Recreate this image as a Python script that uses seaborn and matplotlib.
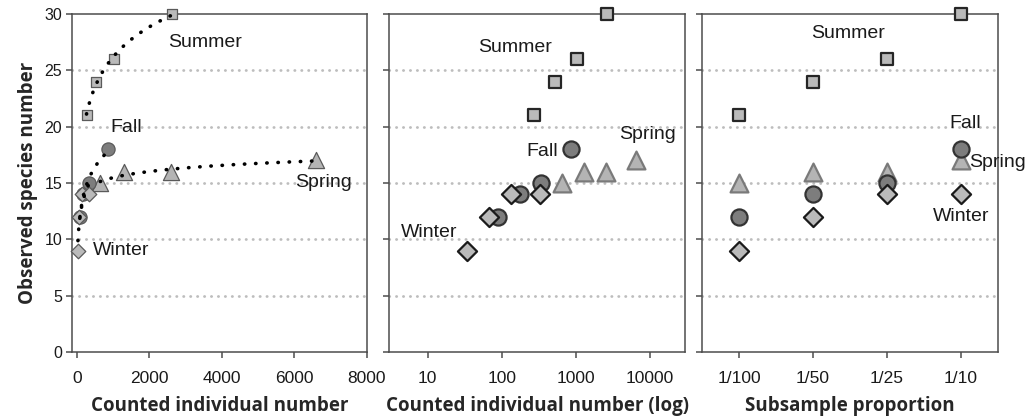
import numpy as np
import seaborn as sns
import matplotlib.pyplot as plt
from matplotlib.ticker import NullLocator

# -------- DATA --------
seasons = ["Summer", "Fall", "Spring", "Winter"]
proportions = ["1/100", "1/50", "1/25", "1/10"]

# counted individuals per subsample (1/100, 1/50, 1/25, 1/10)
summer_n = [270, 520, 1040, 2630]
fall_n = [89, 178, 340, 870]
spring_n = [650, 1300, 2600, 6600]
winter_n = [34, 67, 134, 330]

# observed species number
summer_s = [21, 24, 26, 30]
fall_s = [12, 14, 15, 18]
spring_s = [15, 16, 16, 17]
winter_s = [9, 12, 14, 14]

counts = {"Summer": summer_n, "Fall": fall_n, "Spring": spring_n, "Winter": winter_n}
species = {"Summer": summer_s, "Fall": fall_s, "Spring": spring_s, "Winter": winter_s}

# -------- STYLE --------
style = {
    "Summer": dict(marker="s", fc="#bababa", ec="#262626", s=85, s1=55, z=3),
    "Spring": dict(marker="^", fc="#b4b4b4", ec="#7a7a7a", s=165, s1=135, z=4),
    "Fall":   dict(marker="o", fc="#7d7d7d", ec="#333333", s=135, s1=90, z=5),
    "Winter": dict(marker="D", fc="#bababa", ec="#1a1a1a", s=95, s1=55, z=6),
}
draw_order = ["Summer", "Spring", "Fall", "Winter"]

sns.set_style("white")
plt.rcParams["font.family"] = ["Liberation Sans", "DejaVu Sans"]

fig = plt.figure(figsize=(10.3, 4.2), dpi=100)
ax1 = fig.add_axes([0.0699, 0.1619, 0.2864, 0.8048])
ax2 = fig.add_axes([0.3777, 0.1619, 0.2874, 0.8048])
ax3 = fig.add_axes([0.6816, 0.1619, 0.2874, 0.8048])

dot_line = dict(linestyle=(0, (0.1, 3.0)), dash_capstyle="round")

for ax in (ax1, ax2, ax3):
    for yv in range(5, 30, 5):
        ax.axhline(yv, color="#bdbdbd", lw=2.0, linestyle=(0, (0.1, 2.4)),
                   dash_capstyle="round", zorder=1)

# -------- PANEL 1: linear counts with log trendlines --------
for season in draw_order:
    n = np.array(counts[season], dtype=float)
    s = np.array(species[season], dtype=float)
    st = style[season]
    coef = np.polyfit(np.log(n), s, 1)
    xs = np.linspace(n.min(), n.max(), 300)
    sns.lineplot(x=xs, y=np.polyval(coef, np.log(xs)), ax=ax1, color="black",
                 lw=2.6, zorder=7, **dot_line)
    sns.scatterplot(x=n, y=s, ax=ax1, marker=st["marker"], s=st["s1"],
                    color=st["fc"], edgecolor="#5a5a5a", linewidth=0.9,
                    zorder=st["z"], clip_on=False)

# -------- PANEL 2: log counts --------
for season in draw_order:
    st = style[season]
    sns.scatterplot(x=counts[season], y=species[season], ax=ax2,
                    marker=st["marker"], s=st["s"], color=st["fc"],
                    edgecolor=st["ec"], linewidth=1.6, zorder=st["z"],
                    clip_on=False)

# -------- PANEL 3: subsample proportion --------
for season in draw_order:
    st = style[season]
    sns.stripplot(x=proportions, y=species[season], order=proportions, ax=ax3,
                  jitter=False, marker=st["marker"], size=np.sqrt(st["s"]),
                  color=st["fc"], edgecolor=st["ec"], linewidth=1.6,
                  zorder=st["z"], clip_on=False)

# -------- AXES --------
for ax in (ax1, ax2, ax3):
    ax.set_ylim(0, 30)
    ax.set_yticks(range(0, 31, 5))
    for sp in ax.spines.values():
        sp.set_color("#4d4d4d")
        sp.set_linewidth(1.1)
        sp.set_zorder(2)
    ax.tick_params(axis="both", which="both", bottom=True, left=True,
                   direction="out", length=4, width=1.1, color="#4d4d4d")
    ax.tick_params(axis="x", labelsize=12.5, pad=10, labelcolor="#1a1a1a")
    ax.tick_params(axis="y", labelsize=11.5, pad=3, labelcolor="#1a1a1a")

ax1.set_xlim(-130, 8000)
ax1.set_xticks([0, 2000, 4000, 6000, 8000])

ax2.set_xscale("log")
ax2.set_xlim(3, 30000)
ax2.set_xticks([10, 100, 1000, 10000])
ax2.set_xticklabels(["10", "100", "1000", "10000"])
ax2.xaxis.set_minor_locator(NullLocator())
ax2.tick_params(labelleft=False)

ax3.set_xlim(-0.5, 3.5)
ax3.tick_params(labelleft=False)

lab_font = dict(family=["Open Sans", "DejaVu Sans"], fontsize=13.5, fontweight="bold")
ax1.set_xlabel("Counted individual number", labelpad=7, **lab_font)
ax2.set_xlabel("Counted individual number (log)", labelpad=7, **lab_font)
ax3.set_xlabel("Subsample proportion", labelpad=7, **lab_font)
ax1.set_ylabel("Observed species number", labelpad=5, **lab_font)
ax2.set_ylabel("")
ax3.set_ylabel("")

# -------- SEASON LABELS --------
txt = dict(fontsize=14, ha="center", va="center", color="#1a1a1a")
ax1.text(3530, 27.5, "Summer", **txt)
ax1.text(1370, 19.9, "Fall", **txt)
ax1.text(6800, 15.0, "Spring", **txt)
ax1.text(1230, 9.0, "Winter", **txt)

ax2.text(152, 27.0, "Summer", **txt)
ax2.text(357, 17.8, "Fall", **txt)
ax2.text(9400, 19.3, "Spring", **txt)
ax2.text(10.3, 10.6, "Winter", **txt)

ax3.text(1.47, 28.3, "Summer", **txt)
ax3.text(3.05, 20.3, "Fall", **txt)
ax3.text(3.49, 16.8, "Spring", **txt)
ax3.text(3.0, 12.0, "Winter", **txt)

plt.savefig("out.png", dpi=100)
plt.close()
